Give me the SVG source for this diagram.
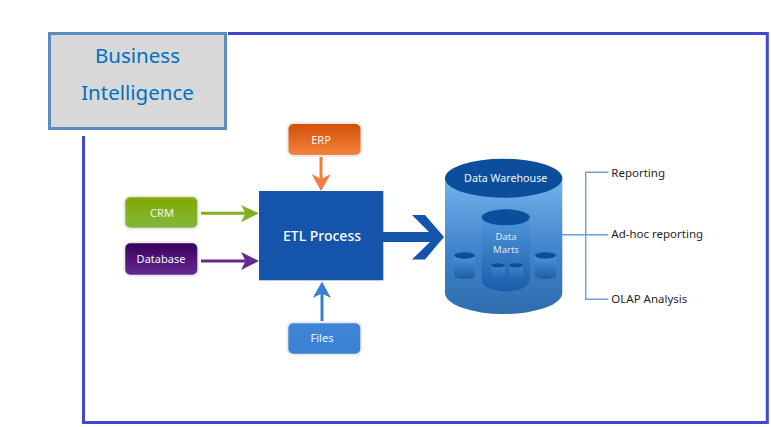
<svg xmlns="http://www.w3.org/2000/svg" width="771" height="427" viewBox="0 0 771 427">
<defs>
<linearGradient id="gErp" x1="0" y1="0" x2="0" y2="1"><stop offset="0" stop-color="#d24e06"/><stop offset="1" stop-color="#f4843c"/></linearGradient>
<linearGradient id="gCrm" x1="0" y1="0" x2="0" y2="1"><stop offset="0" stop-color="#7fa900"/><stop offset="1" stop-color="#84b83e"/></linearGradient>
<linearGradient id="gDb" x1="0" y1="0" x2="0" y2="1"><stop offset="0" stop-color="#38005c"/><stop offset="1" stop-color="#652a92"/></linearGradient>
<linearGradient id="gFiles" x1="0" y1="0" x2="0" y2="1"><stop offset="0" stop-color="#3f86da"/><stop offset="1" stop-color="#3a80d2"/></linearGradient>
<linearGradient id="gWh" x1="0" y1="0" x2="0" y2="1"><stop offset="0" stop-color="#76b2ec"/><stop offset="0.5" stop-color="#4286cc"/><stop offset="1" stop-color="#2f6cae"/></linearGradient>
<linearGradient id="gMart" x1="0" y1="0" x2="0" y2="1"><stop offset="0" stop-color="#4f97dc"/><stop offset="1" stop-color="#1a5ca8"/></linearGradient>
<linearGradient id="gTiny" x1="0" y1="0" x2="0" y2="1"><stop offset="0" stop-color="#3f86cc"/><stop offset="1" stop-color="#1f62ae"/></linearGradient>
</defs>
<style>
.frame{fill:none;stroke:#4048cf;stroke-width:3}
.src{stroke:#ebebeb;stroke-width:2}
.w{fill:#f2f6fb;font-family:"Noto Sans",sans-serif;font-size:11px;text-anchor:middle}
.m{fill:#dce9f6;font-family:"Noto Sans",sans-serif;font-size:9.500px;text-anchor:middle}
.k{fill:#1f1f1f;font-family:"Noto Sans",sans-serif;font-size:11.500px}
.bi{fill:#0070c0;font-family:"Noto Sans",sans-serif;font-size:20.500px;text-anchor:middle}
.top{fill:#0a4e9c}
</style>
<rect width="771" height="427" fill="#fff"/>
<g id="connectors" fill="none">
<path class="frame" d="M228 33.500H767.300V422.500H83.500V136"/>
<path d="M321 157V180" stroke="#f47c3c" stroke-width="3"/><path d="M311.700 174L321 179L330.700 174L321 191Z" fill="#f47c3c"/>
<path d="M201 213.300H246" stroke="#82b020" stroke-width="3"/><path d="M241 205L259 213.300L241 222.300L245.500 213.300Z" fill="#82b020"/>
<path d="M201 261H246" stroke="#642a92" stroke-width="3"/><path d="M241 252L259 261L241 270L245.500 261Z" fill="#642a92"/>
<path d="M322 321V292" stroke="#3a80d2" stroke-width="3"/><path d="M312.700 298L322 281.500L331 298L322 293.500Z" fill="#3a80d2"/>
<path d="M383 232H429L412 215H425L444 237L425 259.500H412L430 242H383Z" fill="#1454aa"/>
<path d="M562 234.700H608.300M608.300 172.300H585.700V299.300H608.300" stroke="#6a9fd4" stroke-width="1.400"/>
</g>
<g id="bi"><rect x="49.500" y="33.500" width="176" height="95" fill="#d8d8d8" stroke="#5a8cc0" stroke-width="3"/><text class="bi" x="137.500" y="62.500">Business</text><text class="bi" x="137.500" y="100">Intelligence</text></g>
<g id="erp"><rect class="src" x="287.500" y="123" width="74" height="33" rx="6" fill="url(#gErp)"/><text class="w" x="321" y="143.500">ERP</text></g>
<g id="crm"><rect class="src" x="124.300" y="196.300" width="74" height="32.500" rx="6" fill="url(#gCrm)"/><text class="w" x="162" y="216.500">CRM</text></g>
<g id="database"><rect class="src" x="124.300" y="242.300" width="74" height="33.500" rx="6" fill="url(#gDb)"/><text class="w" x="161" y="263">Database</text></g>
<g id="files"><rect class="src" x="287.300" y="322.300" width="74" height="32.500" rx="6" fill="url(#gFiles)"/><text class="w" x="322" y="342">Files</text></g>
<g id="etl"><rect x="259" y="191" width="124.300" height="89.300" fill="#1454aa"/><text x="322" y="241" fill="#fff" font-family="'Noto Sans',sans-serif" font-size="14px" font-weight="500" text-anchor="middle">ETL Process</text></g>
<g id="warehouse">
<path d="M445 178.300V293A58.650 21 0 0 0 562.300 293V178.300Z" fill="url(#gWh)"/><ellipse class="top" cx="503.650" cy="178.300" rx="58.650" ry="19.500"/>
<text class="w" x="505.700" y="182.300" style="font-size:10.700px">Data Warehouse</text>
<path d="M481.700 217.300V280A24 11.500 0 0 0 529.700 280V217.300Z" fill="url(#gMart)"/><ellipse class="top" cx="505.700" cy="217.300" rx="24" ry="8"/>
<text class="m" x="506" y="239.500">Data</text><text class="m" x="506" y="252.500">Marts</text>
<path d="M454.300 255.500V276A10.350 3 0 0 0 475 276V255.500Z" fill="url(#gMart)"/><ellipse class="top" cx="464.650" cy="255.500" rx="10.350" ry="3.200"/>
<path d="M535 255.500V276A10.500 3 0 0 0 556 276V255.500Z" fill="url(#gMart)"/><ellipse class="top" cx="545.500" cy="255.500" rx="10.500" ry="3.200"/>
<path d="M491 265.300V278.500A7 2.500 0 0 0 505 278.500V265.300Z" fill="url(#gTiny)"/><ellipse class="top" cx="498" cy="265.300" rx="7" ry="2"/>
<path d="M509 265.300V278.500A7 2.500 0 0 0 523 278.500V265.300Z" fill="url(#gTiny)"/><ellipse class="top" cx="516" cy="265.300" rx="7" ry="2"/>
</g>
<g id="reporting"><text class="k" x="611.300" y="176.700">Reporting</text></g>
<g id="adhoc"><text class="k" x="611.300" y="238.300">Ad-hoc reporting</text></g>
<g id="olap"><text class="k" x="611.300" y="302.700">OLAP Analysis</text></g>
</svg>
